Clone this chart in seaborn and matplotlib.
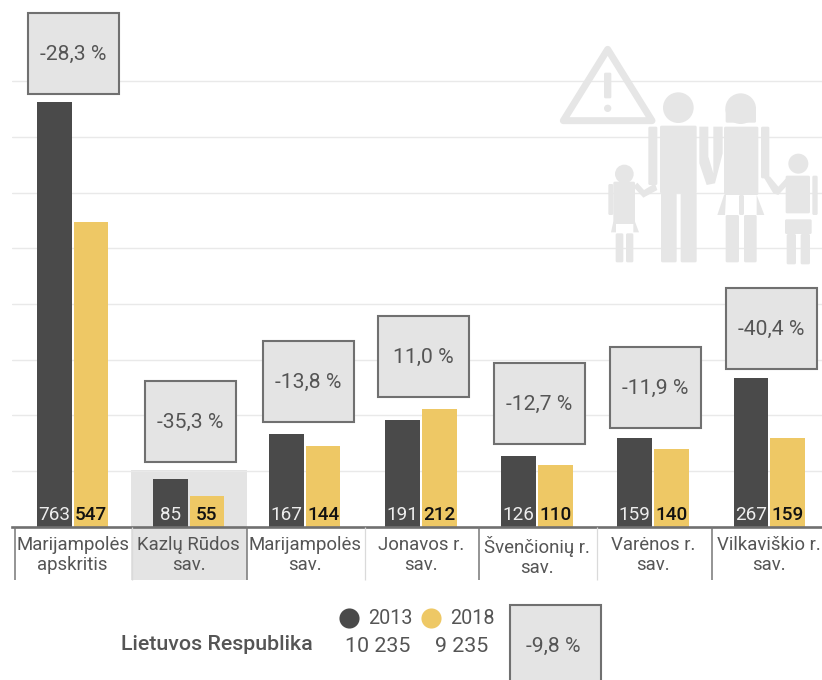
import matplotlib
matplotlib.use("Agg")
import matplotlib.pyplot as plt
from matplotlib.patches import Rectangle, Polygon, Circle, FancyBboxPatch
import pandas as pd
import seaborn as sns

categories = ["Marijampolės\napskritis", "Kazlų Rūdos\nsav.", "Marijampolės\nsav.",
              "Jonavos r.\nsav.", "Švenčionių r.\nsav.", "Varėnos r.\nsav.",
              "Vilkaviškio r.\nsav."]
values_2013 = [763, 85, 167, 191, 126, 159, 267]
values_2018 = [547, 55, 144, 212, 110, 140, 159]
changes = ["-28,3 %", "-35,3 %", "-13,8 %", "11,0 %", "-12,7 %", "-11,9 %", "-40,4 %"]
national_label = "Lietuvos Respublika"
national_2013 = "10 235"
national_2018 = "9 235"
national_change = "-9,8 %"

DARK, YELLOW, BOXBG, BOXEDGE, TXT, ICON = "#4A4A4A", "#EEC865", "#E4E4E4", "#707070", "#555555", "#E6E6E6"
W, H = 822, 680
Y0 = 526.5
PXU = 0.5565

sns.set_theme(style="white")
plt.rcParams["font.family"] = ["Roboto", "DejaVu Sans"]

df = pd.DataFrame({
    "cat": categories * 2,
    "year": ["2013"] * 7 + ["2018"] * 7,
    "value": values_2013 + values_2018,
})

fig = plt.figure(figsize=(W / 100, H / 100), dpi=100, facecolor="white")
ax = fig.add_axes([12 / W, 1 - Y0 / H, 1 - 12 / W, Y0 / H])
sns.barplot(data=df, x="cat", y="value", hue="year", order=categories,
            palette={"2013": DARK, "2018": YELLOW}, width=0.63, gap=0.05, saturation=1,
            legend=False, ax=ax, zorder=3, linewidth=0, errorbar=None)
ax.set_axisbelow(False)
ax.set_xlim(-0.522, 6.455)
ax.set_ylim(0, Y0 / PXU)
ax.set_xlabel("")
ax.set_ylabel("")
ax.set_yticks(range(100, 900, 100))
ax.set_yticklabels([])
ax.grid(axis="y", color="#E9E9E9", lw=1.0)
ax.grid(axis="x", visible=False)
ax.tick_params(axis="both", length=0)
ax.tick_params(axis="x", pad=6.5)
for lab in ax.get_xticklabels():
    lab.set_fontsize(13.4)
    lab.set_color(TXT)
    lab.set_linespacing(1.17)
for s in ["top", "left", "right"]:
    ax.spines[s].set_visible(False)
ax.spines["bottom"].set_color("#707070")
ax.spines["bottom"].set_linewidth(1.9)
ax.spines["bottom"].set_zorder(6)

# highlighted category band
ax.add_patch(Rectangle((0.5, -53.5 / PXU), 1, 53.5 / PXU + 56.5 / PXU,
                       fc=BOXBG, ec="none", zorder=1, clip_on=False))

# value labels inside the bars
for cont, col, wt, fs in zip(ax.containers, ["#EDEDED", "#111111"], [400, 500], [13.6, 13.6]):
    for bar in cont:
        ax.annotate(f"{bar.get_height():.0f}", (bar.get_x() + bar.get_width() / 2, 0),
                    xytext=(0, 4.4), textcoords="offset points", ha="center", va="baseline",
                    fontsize=fs, color=col, fontweight=wt, zorder=5)

# overlay in pixel coordinates for decoration
ov = fig.add_axes([0, 0, 1, 1], facecolor="none")
ov.set_xlim(0, W)
ov.set_ylim(H, 0)
ov.axis("off")

# separators
for i, x in enumerate([14.5, 132, 247, 365, 479, 597, 712]):
    dark = i % 2 == 0
    ov.plot([x, x], [527, 580], color="#777777" if dark else "#DADADA",
            lw=1.1 if dark else 0.9, solid_capstyle="butt")

# icon
def Z(x, y):
    return 540 + x / 3, 30 + y / 3

def zrect(x0, y0, x1, y1):
    a, b = Z(x0, y0)
    c, d = Z(x1, y1)
    ov.add_patch(FancyBboxPatch((a + 1, b + 1), c - a - 2, d - b - 2,
                                boxstyle="round,pad=1,rounding_size=1.5", fc=ICON, ec="none", zorder=2))

def zpoly(pts, fc=ICON):
    ov.add_patch(Polygon([Z(*p) for p in pts], closed=True, fc=fc, ec="none", zorder=2))

def zcirc(x, y, r):
    ov.add_patch(Circle(Z(x, y), r / 3, fc=ICON, ec="none", zorder=2))

# warning sign
ov.add_patch(Polygon([Z(203, 58), Z(70, 272), Z(336, 272)], closed=True, fc="none", ec=ICON,
                     lw=5, joinstyle="round", zorder=2))
zrect(192, 128, 214, 205)
zcirc(203, 235, 11)
# man
zcirc(415, 233, 46)
zrect(360, 287, 470, 490)
zrect(363, 490, 410, 697)
zrect(422, 490, 470, 697)
zrect(325, 290, 352, 465)
zpoly([(478, 290), (505, 290), (505, 380), (520, 430), (520, 290), (548, 290), (548, 370),
       (525, 460), (500, 465), (478, 400)])
zpoly([(345, 460), (352, 480), (310, 503), (280, 470), (292, 458), (312, 480)])
# woman
ov.add_patch(Circle(Z(602, 236), 46 / 3, fc=ICON, ec="none", zorder=2))
zrect(557, 236, 648, 278)
zrect(552, 290, 655, 495)
zpoly([(552, 495), (532, 555), (555, 555), (558, 495)])
zpoly([(650, 495), (673, 555), (650, 555)])
zrect(597, 495, 612, 555)
zrect(557, 555, 597, 697)
zrect(612, 555, 650, 697)
zrect(663, 290, 688, 445)
zpoly([(670, 440), (690, 440), (715, 470), (738, 445), (738, 470), (715, 495), (700, 490)])
# girl
zcirc(253, 432, 28)
zrect(220, 455, 285, 580)
zpoly([(220, 575), (285, 575), (297, 607), (280, 607), (280, 582), (228, 582), (228, 607), (213, 607)])
zrect(205, 462, 220, 555)
zrect(227, 610, 250, 697)
zrect(258, 610, 280, 697)
# boy
zcirc(775, 401, 30)
zrect(737, 437, 810, 550)
zrect(817, 437, 833, 555)
zrect(735, 568, 815, 612)
zrect(740, 612, 768, 703)
zrect(782, 612, 810, 703)

# change boxes
def box(cx, cy, label, dx=0):
    ov.add_patch(Rectangle((cx - 45.5, cy - 40.5), 91, 81, fc=BOXBG, ec=BOXEDGE, lw=1.5, zorder=4))
    ov.text(cx + dx, cy + 1, label, ha="center", va="center", fontsize=15.2, color=TXT, zorder=5)

box_centres = [(73.5, 53.5), (190, 421), (308, 381), (423, 356), (539, 403), (655, 387), (771, 328)]
for (cx, cy), lab in zip(box_centres, changes):
    box(cx, cy, lab)
box(555, 645, national_change, dx=-2)

# legend / national row
ov.scatter([348.5], [618], s=210, color=DARK, linewidths=0, zorder=3)
ov.scatter([431], [618], s=210, color=YELLOW, linewidths=0, zorder=3)
ov.text(368, 618, "2013", va="center", fontsize=14.2, color=TXT)
ov.text(450, 618, "2018", va="center", fontsize=14.2, color=TXT)
ov.text(313, 645, national_label, ha="right", va="center", fontsize=15.4, color=TXT, fontweight=500)
ov.text(410, 646, national_2013, ha="right", va="center", fontsize=15.4, color=TXT)
ov.text(488, 646, national_2018, ha="right", va="center", fontsize=15.4, color=TXT)

fig.savefig("out.png", dpi=100)
